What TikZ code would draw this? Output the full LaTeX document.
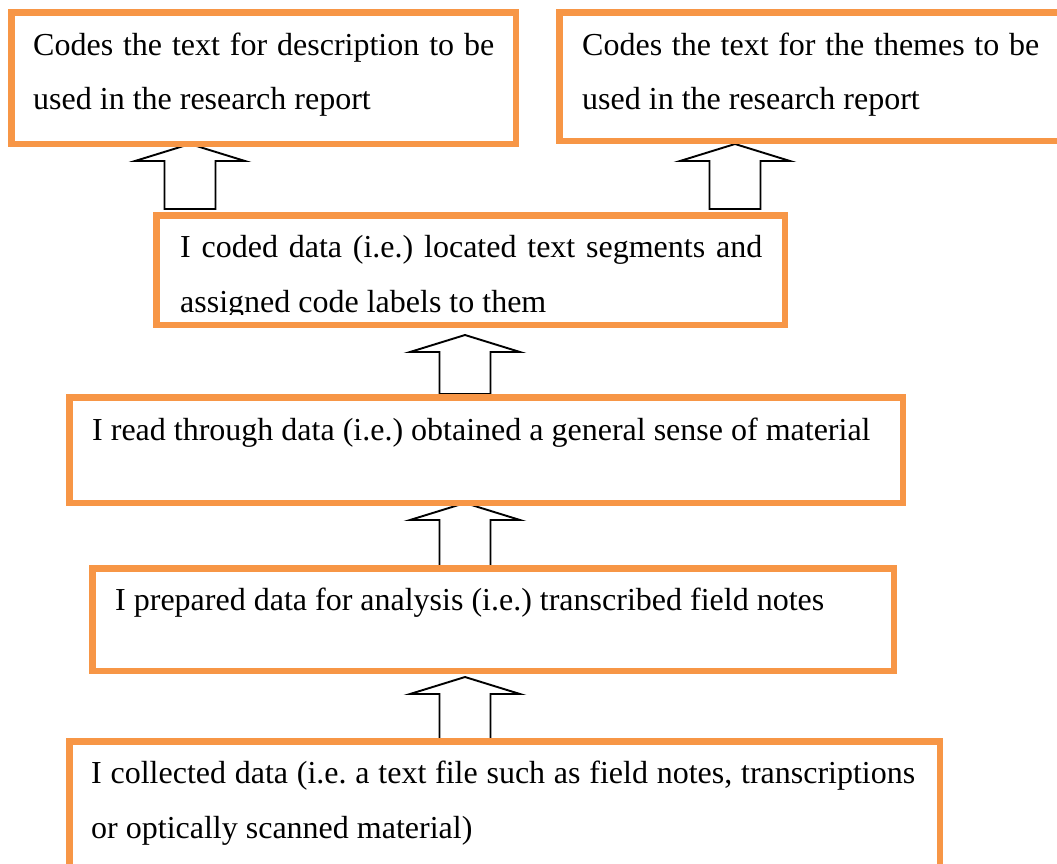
\documentclass[tikz,border=0pt]{standalone}
\usepackage{fontspec}
\setmainfont{Liberation Serif}
\usetikzlibrary{calc,backgrounds}
\definecolor{boxorange}{HTML}{F79646}
\frenchspacing

% hollow upward block arrow: #1 = tip, #2 = point on the base line
\newcommand\blockup[2]{%
  \draw[blockarr] let \p1=(#1), \p2=(#2) in
    (\x1,\y1) -- (\x1+55pt,\y1-17pt) -- (\x1+25.5pt,\y1-17pt) -- (\x1+25.5pt,\y2)
    -- (\x1-25.5pt,\y2) -- (\x1-25.5pt,\y1-17pt) -- (\x1-55pt,\y1-17pt) -- cycle;}

\begin{document}
\begin{tikzpicture}[x=1pt,y=-1pt,
  stagebox/.style={draw=boxorange, line width=6.5pt, inner sep=0pt, anchor=north west, rectangle},
  steptext/.style={anchor=base west, inner sep=0pt, font=\fontsize{32pt}{54pt}\selectfont, text=black},
  blockarr/.style={draw=black, line width=1.9pt, fill=white, line join=miter}]

\useasboundingbox (0,0) rectangle (1057,863);
\clip (0,0) rectangle (1057,863);

% stage boxes (placed by their outer corner)
\node[stagebox, minimum width=504.5pt, minimum height=131.5pt] (box1) at (8,9) {};
\node[stagebox, minimum width=514pt,   minimum height=128.5pt] (box2) at (556,9) {};
\node[stagebox, minimum width=628.5pt, minimum height=109.5pt] (box3) at (153,212) {};
\node[stagebox, minimum width=833.5pt, minimum height=105.5pt] (box4) at (66,394) {};
\node[stagebox, minimum width=801.5pt, minimum height=102.5pt] (box5) at (89,565) {};
\node[stagebox, minimum width=870.5pt, minimum height=160pt]   (box6) at (66,738) {};

% texts
\node[steptext] (t1a) at (33,55)  {\makebox[461pt][s]{Codes the text for description to be}};
\node[steptext] (t1b) at (33,109) {used in the research report};
\node[steptext] (t2a) at (582,55)  {\makebox[457pt][s]{Codes the text for the themes to be}};
\node[steptext] (t2b) at (582,109) {used in the research report};
\node[steptext] (t3a) at (180,257) {\makebox[582pt][s]{I coded data (i.e.) located text segments and}};
\begin{scope}
  \clip (150,200) rectangle (800,314);
  \node[steptext] (t3b) at (180,312) {assigned code labels to them};
\end{scope}
\node[steptext] (t4) at (92,440) {I read through data (i.e.) obtained a general sense of material};
\node[steptext] (t5) at (115,610) {I prepared data for analysis (i.e.) transcribed field notes};
\node[steptext] (t6a) at (91,783) {\makebox[824pt][s]{I collected data (i.e. a text file such as field notes, transcriptions}};
\node[steptext] (t6b) at (91,838) {or optically scanned material)};

% arrow tips and bases
\coordinate (tipA) at (190,144);
\coordinate (tipB) at (735,144);
\coordinate (tipC) at (465,335);
\coordinate (tipD) at (465,503);
\coordinate (tipE) at (465,677);
\coordinate (baseA) at ($(box3.north -| tipA)+(0,-3)$);
\coordinate (baseB) at ($(box3.north -| tipB)+(0,-3)$);
\coordinate (baseC) at (box4.north -| tipC);
\coordinate (baseD) at ($(box5.north -| tipD)+(0,2)$);
\coordinate (baseE) at ($(box6.north -| tipE)+(0,4)$);

\begin{scope}[on background layer]
  \blockup{tipA}{baseA}
  \blockup{tipB}{baseB}
  \blockup{tipC}{baseC}
  \blockup{tipD}{baseD}
  \blockup{tipE}{baseE}
\end{scope}
\end{tikzpicture}
\end{document}
